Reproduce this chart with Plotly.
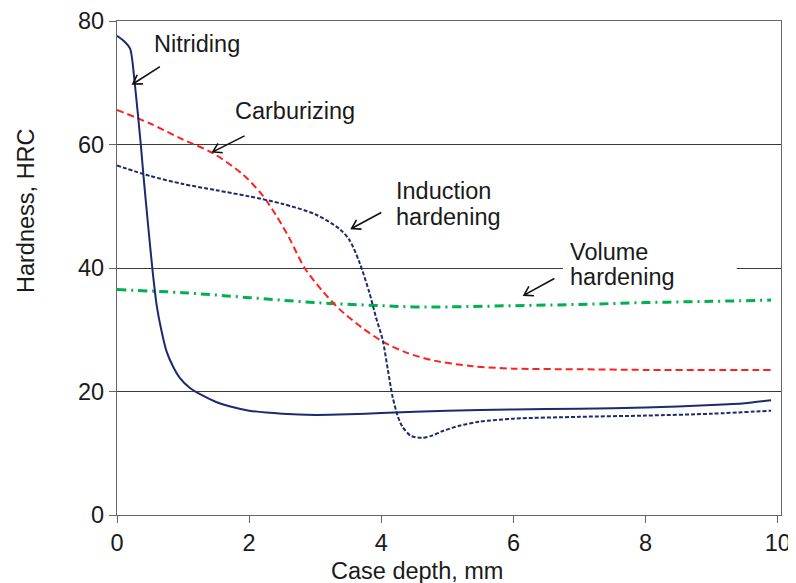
import math
import plotly.graph_objects as go

# ---- data ----
nit_x = [0, 0.1, 0.2, 0.27, 0.36, 0.40, 0.47, 0.54, 0.60, 0.67, 0.75, 0.85, 0.95, 1.1, 1.25, 1.5, 1.7,
         2.0, 2.5, 3.0, 3.5, 4.0, 5.0, 6.0, 7.0, 8.0, 9.0, 9.5, 9.9]
nit_y = [77.6, 76.8, 75.5, 69.8, 60, 55, 47, 39.4, 34, 30, 26.5, 24, 22.2, 20.6, 19.6, 18.3, 17.6,
         16.9, 16.4, 16.2, 16.3, 16.5, 16.9, 17.1, 17.2, 17.4, 17.8, 18.1, 18.6]

carb_x = [0, 0.5, 1.0, 1.45, 1.9, 2.2, 2.41, 2.6, 2.84, 3.1, 3.37, 3.7, 4.02, 4.38, 4.8, 5.38,
          6.0, 7.0, 8.0, 9.0, 9.9]
carb_y = [65.6, 63.4, 60.8, 58.6, 55.2, 51.8, 48.5, 45.0, 40.0, 36.4, 33.3, 30.4, 28.1, 26.3, 25.0, 24.1,
          23.7, 23.6, 23.5, 23.5, 23.5]

ind_x = [0, 0.5, 1.0, 1.5, 2.0, 2.5, 3.0, 3.37, 3.52, 3.67, 3.82, 3.92, 4.02, 4.1, 4.17, 4.25, 4.32,
         4.45, 4.62, 4.78, 4.93, 5.2, 5.48, 6.0, 7.0, 8.0, 9.0, 9.9]
ind_y = [56.6, 54.9, 53.6, 52.6, 51.6, 50.4, 48.7, 46.3, 44.5, 40.9, 36.0, 32.0, 28.4, 23.5, 19.2, 16.0, 14.3,
         12.8, 12.5, 12.9, 13.6, 14.5, 15.1, 15.6, 15.9, 16.1, 16.4, 16.9]

vol_x = [0, 1, 2, 3, 4, 4.5, 5, 6, 7, 8, 9, 9.9]
vol_y = [36.5, 36.0, 35.2, 34.4, 33.9, 33.7, 33.7, 33.9, 34.1, 34.4, 34.6, 34.8]

x_ticks = [0, 2, 4, 6, 8, 10]
y_ticks = [0, 20, 40, 60, 80]

# label lines: (text, x, y) and arrows: (tail_x, tail_y, tip_x, tip_y)
labels = [("Nitriding", 0.53, 76.2),
          ("Carburizing", 1.75, 65.5),
          ("Induction", 4.20, 52.5),
          ("hardening", 4.20, 48.3),
          ("Volume", 6.82, 42.6),
          ("hardening", 6.82, 38.5)]
arrows = [(0.65, 72.6, 0.24, 69.8),
          (1.93, 61.4, 1.45, 58.8),
          (4.00, 49.0, 3.55, 46.4),
          (6.62, 38.3, 6.16, 35.6)]

FONT = "Arial, Liberation Sans, sans-serif"
NAVY = "#1c2a6e"
TXT = "#1a1a1a"
FS = 23.5

# geometry (page body has an 8px margin, compensated here)
OFF = 8
W, H = 796 - OFF, 583 - OFF
ML, MR, MT, MB = 117 - OFF, 15, 21 - OFF, 68
pw = W - ML - MR
ph = H - MT - MB
XR = [0, 10.05]
YR = [0, 80]
sx = pw / (XR[1] - XR[0])
sy = ph / (YR[1] - YR[0])

fig = go.Figure()
fig.add_trace(go.Scatter(x=vol_x, y=vol_y, mode="lines", name="Volume hardening",
                         line=dict(color="#00b050", width=3, dash="9px,5px,2px,5px", shape="spline")))
fig.add_trace(go.Scatter(x=carb_x, y=carb_y, mode="lines", name="Carburizing",
                         line=dict(color="#ff2020", width=2, dash="7px,4px", shape="spline", smoothing=0.8)))
fig.add_trace(go.Scatter(x=ind_x, y=ind_y, mode="lines", name="Induction hardening",
                         line=dict(color=NAVY, width=2, dash="4px,2px", shape="spline", smoothing=0.8)))
fig.add_trace(go.Scatter(x=nit_x, y=nit_y, mode="lines", name="Nitriding",
                         line=dict(color=NAVY, width=2, shape="spline", smoothing=0.6)))

shapes = []
# white patch behind "Volume hardening" interrupting gridline at 40
shapes.append(dict(type="rect", xref="x", yref="y", x0=6.75, x1=9.38, y0=38.6, y1=41.6,
                   fillcolor="white", line=dict(width=0), layer="above"))

# arrows with open V heads
head_len, head_ang = 10, math.radians(32)
for tx, ty, hx, hy in arrows:
    dx = (tx - hx) * sx
    dy = (ty - hy) * sy
    L = math.hypot(dx, dy)
    ux, uy = dx / L, dy / L
    pts = []
    for s in (1, -1):
        c, si = math.cos(s * head_ang), math.sin(s * head_ang)
        rx = ux * c - uy * si
        ry = ux * si + uy * c
        pts.append((hx + rx * head_len / sx, hy + ry * head_len / sy))
    path = (f"M {tx},{ty} L {hx},{hy} "
            f"M {pts[0][0]},{pts[0][1]} L {hx},{hy} L {pts[1][0]},{pts[1][1]}")
    shapes.append(dict(type="path", xref="x", yref="y", path=path,
                       line=dict(color="#111111", width=1.6), layer="above"))

annotations = []
for txt, x, y in labels:
    annotations.append(dict(text=txt, x=x, y=y, xref="x", yref="y", showarrow=False,
                            xanchor="left", yanchor="middle", align="left",
                            font=dict(family=FONT, size=FS, color=TXT)))
# axis titles
annotations.append(dict(text="Case depth, mm", x=(417 - 117) / pw, y=0, xref="paper", yref="paper",
                        yshift=-56, yanchor="middle", showarrow=False,
                        font=dict(family=FONT, size=FS, color=TXT)))
annotations.append(dict(text="Hardness, HRC", x=0, y=(515 - 211) / ph, xref="paper", yref="paper",
                        xshift=-91, xanchor="center", textangle=-90, showarrow=False,
                        font=dict(family=FONT, size=FS, color=TXT)))

fig.update_layout(
    width=W, height=H,
    margin=dict(l=ML, r=MR, t=MT, b=MB, autoexpand=False),
    paper_bgcolor="white", plot_bgcolor="white",
    showlegend=False,
    shapes=shapes,
    annotations=annotations,
    font=dict(family=FONT, size=22, color=TXT),
)
fig.update_xaxes(range=XR, tickvals=x_ticks, showgrid=False, zeroline=False, automargin=False,
                 showline=True, linecolor="#666666", linewidth=1.2, mirror=True,
                 ticks="outside", ticklen=7, tickcolor="#666666",
                 tickfont=dict(family=FONT, size=23.5, color=TXT))
fig.update_yaxes(range=YR, tickvals=y_ticks, showgrid=True, gridcolor="#3a3a3a", gridwidth=1,
                 zeroline=False, automargin=False, showline=True, linecolor="#666666", linewidth=1.2,
                 mirror=True, ticks="outside", ticklen=7, tickcolor="#666666",
                 tickfont=dict(family=FONT, size=23.5, color=TXT))

fig.write_html("out.html")
